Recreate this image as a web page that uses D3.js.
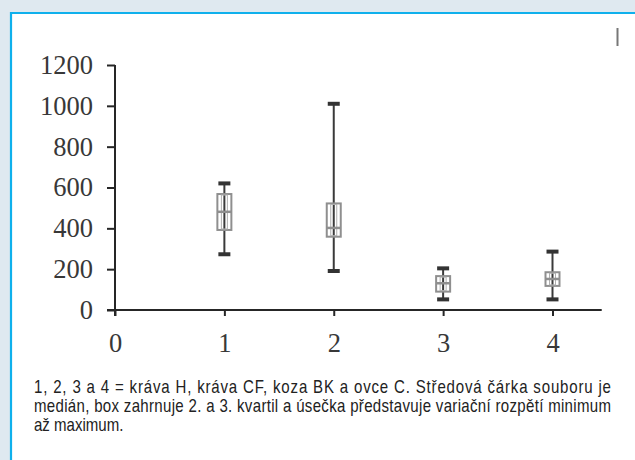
<!DOCTYPE html>
<html>
<head>
<meta charset="utf-8">
<script src="https://cdn.jsdelivr.net/npm/d3@7/dist/d3.min.js"></script>
<style>
  html, body { margin: 0; padding: 0; background: #dfe9f0; }
  svg { display: block; }
</style>
</head>
<body>
<svg id="chart" width="635" height="460"></svg>
<script>
// ---- data ----
const categories = [1, 2, 3, 4];
const mins    = [273, 191, 52, 52];
const q1      = [392, 359, 90, 118];
const medians = [481, 402, 131, 152];
const q3      = [568, 522, 166, 185];
const maxs    = [620, 1010, 204, 286];
const yTicks  = [0, 200, 400, 600, 800, 1000, 1200];
const xTicks  = [0, 1, 2, 3, 4];
const captionLines = [
  "1, 2, 3 a 4 = kráva H, kráva CF, koza BK a ovce C. Středová čárka souboru je",
  "medián, box zahrnuje 2. a 3. kvartil a úsečka představuje variační rozpětí minimum",
  "až maximum."
];

const svg = d3.select("#chart");

// background panel
svg.append("rect").attr("x", 0).attr("y", 0).attr("width", 635).attr("height", 460).attr("fill", "#dfe9f0");
svg.append("rect").attr("x", 10).attr("y", 12).attr("width", 640).attr("height", 460).attr("fill", "#ffffff");
svg.append("line").attr("x1", 10).attr("x2", 635).attr("y1", 13).attr("y2", 13)
  .attr("stroke", "#0fb0ec").attr("stroke-width", 2.2);
svg.append("line").attr("x1", 11).attr("x2", 11).attr("y1", 12).attr("y2", 460)
  .attr("stroke", "#0fb0ec").attr("stroke-width", 2.2);

// small marker at top right
svg.append("line").attr("x1", 617.5).attr("x2", 617.5).attr("y1", 28).attr("y2", 46)
  .attr("stroke", "#777").attr("stroke-width", 2);

const x = d3.scaleLinear().domain([0, 4]).range([115, 552.5]);
const y = d3.scaleLinear().domain([0, 1200]).range([310, 65]);

const axisColor = "#262626";
const serif = "'Liberation Serif', 'Times New Roman', serif";

// y axis
const yAxis = d3.axisLeft(y).tickValues(yTicks).tickSize(8).tickPadding(14).tickFormat(d3.format("d"));
const gy = svg.append("g").attr("transform", `translate(${x(0)},0)`).call(yAxis);
gy.select(".domain").remove();
gy.selectAll(".tick line").attr("stroke", axisColor).attr("stroke-width", 2);
gy.selectAll(".tick text").attr("font-family", serif).attr("font-size", 26.5).attr("fill", "#383838");
svg.append("line").attr("x1", x(0)).attr("x2", x(0)).attr("y1", y(1200)).attr("y2", y(0) + 6)
  .attr("stroke", axisColor).attr("stroke-width", 2);

// x axis
const xAxis = d3.axisBottom(x).tickValues(xTicks).tickSize(6).tickPadding(17).tickFormat(d3.format("d"));
const gx = svg.append("g").attr("transform", `translate(0,${y(0)})`).call(xAxis);
gx.select(".domain").remove();
gx.selectAll(".tick line").attr("stroke", axisColor).attr("stroke-width", 2);
gx.selectAll(".tick text").attr("font-family", serif).attr("font-size", 26.5).attr("fill", "#383838");
svg.append("line").attr("x1", x(0) - 8).attr("x2", x(4.45)).attr("y1", y(0)).attr("y2", y(0))
  .attr("stroke", axisColor).attr("stroke-width", 2);

// box plots
const data = categories.map((c, i) => ({ c, min: mins[i], q1: q1[i], med: medians[i], q3: q3[i], max: maxs[i] }));
const capW = 12, boxW = 14;
const g = svg.append("g");
data.forEach(d => {
  const cx = x(d.c);
  g.append("line").attr("x1", cx).attr("x2", cx).attr("y1", y(d.min)).attr("y2", y(d.max))
    .attr("stroke", "#3a3a3a").attr("stroke-width", 2);
  [d.min, d.max].forEach(v => {
    g.append("line").attr("x1", cx - capW / 2).attr("x2", cx + capW / 2).attr("y1", y(v)).attr("y2", y(v))
      .attr("stroke", "#333").attr("stroke-width", 4);
  });
  g.append("rect").attr("x", cx - boxW / 2).attr("y", y(d.q3)).attr("width", boxW).attr("height", y(d.q1) - y(d.q3))
    .attr("fill", "none").attr("stroke", "#8f8f8f").attr("stroke-width", 2);
  g.append("rect").attr("x", cx - 3).attr("y", y(d.q3) + 1).attr("width", 6).attr("height", y(d.q1) - y(d.q3) - 2)
    .attr("fill", "none").attr("stroke", "#b0b0b0").attr("stroke-width", 1);
  g.append("line").attr("x1", cx - boxW / 2).attr("x2", cx + boxW / 2).attr("y1", y(d.med)).attr("y2", y(d.med))
    .attr("stroke", "#8f8f8f").attr("stroke-width", 2.5);
});

// caption (condensed sans via horizontal scaling)
const capFont = "'Liberation Sans', Arial, sans-serif";
const sx = 0.86;
const capX = 34, capRight = 611;
const capG = svg.append("g").attr("transform", `translate(${capX},0) scale(${sx},1)`);
captionLines.forEach((t, i) => {
  const txt = capG.append("text").attr("x", 0).attr("y", 393 + i * 19)
    .attr("font-family", capFont).attr("font-size", 17.5).attr("fill", "#222").text(t);
  if (i < 2) txt.attr("textLength", (capRight - capX) / sx).attr("lengthAdjust", "spacing");
});
</script>
</body>
</html>
